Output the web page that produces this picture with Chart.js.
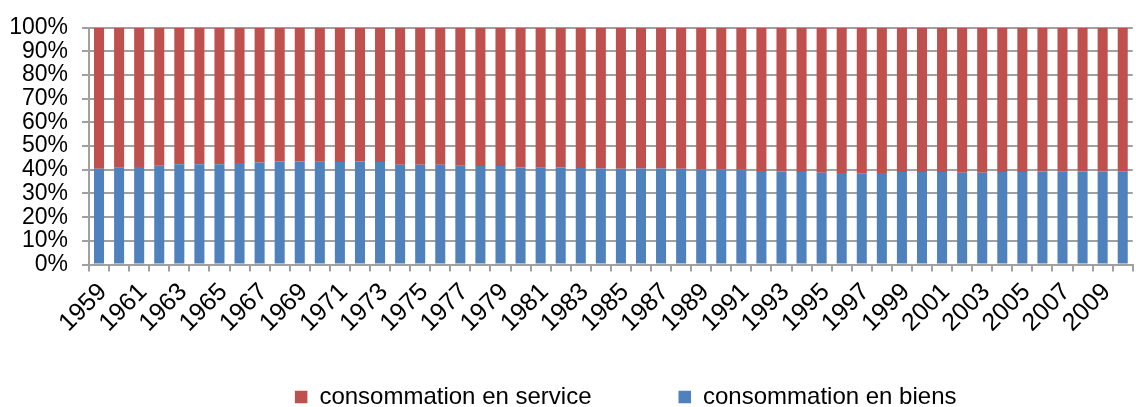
<!DOCTYPE html>
<html>
<head>
<meta charset="utf-8">
<script src="https://cdn.jsdelivr.net/npm/chart.js@4"></script>
<style>
  html, body { margin: 0; padding: 0; background: #fff; overflow: hidden; width: 1136px; height: 407px; }
  #wrap { position: absolute; left: 0; top: 0; width: 1150px; height: 407px; }
</style>
</head>
<body>
<div id="wrap"><canvas id="c" width="1150" height="407"></canvas></div>
<script>
const years = [1959,1960,1961,1962,1963,1964,1965,1966,1967,1968,1969,1970,1971,1972,1973,1974,1975,1976,1977,1978,1979,1980,1981,1982,1983,1984,1985,1986,1987,1988,1989,1990,1991,1992,1993,1994,1995,1996,1997,1998,1999,2000,2001,2002,2003,2004,2005,2006,2007,2008,2009,2010];
const biens = [40.4,40.9,41.2,41.7,42.4,42.4,42.4,42.9,43.1,43.5,43.5,43.4,43.3,43.5,43.3,42.1,42.1,42.1,41.7,41.6,41.6,41.0,40.9,41.0,40.8,40.6,40.4,40.6,40.6,40.4,40.1,40.1,40.0,39.5,39.3,39.1,38.8,38.7,38.6,38.7,39.1,39.1,39.1,38.8,38.8,39.1,39.1,39.3,39.4,39.3,39.3,39.4];
const service = [59.6,59.1,58.8,58.3,57.6,57.6,57.6,57.1,56.9,56.5,56.5,56.6,56.7,56.5,56.7,57.9,57.9,57.9,58.3,58.4,58.4,59.0,59.1,59.0,59.2,59.4,59.6,59.4,59.4,59.6,59.9,59.9,60.0,60.5,60.7,60.9,61.2,61.3,61.4,61.3,60.9,60.9,60.9,61.2,61.2,60.9,60.9,60.7,60.6,60.7,60.7,60.6];
const yTicks = [0,10,20,30,40,50,60,70,80,90,100];
const seriesNames = ['consommation en biens', 'consommation en service'];

const FONT = 'Liberation Sans, Arial, sans-serif';
const GRID = '#a0a0a0';
const LEGEND_PAD = 87;

const legendShift = {
  id: 'legendShift',
  afterLayout(chart) {
    const lg = chart.legend;
    lg.left += 54;
    lg.right += 54;
    const top = 397 - LEGEND_PAD - 12;
    lg.top = top;
    lg.bottom = 407;
    lg.height = 407 - top;
  }
};

new Chart(document.getElementById('c'), {
  type: 'bar',
  data: {
    labels: years.map(String),
    datasets: [
      { label: seriesNames[0], data: biens, backgroundColor: '#4F81BD', borderWidth: 0 },
      { label: seriesNames[1], data: service, backgroundColor: '#C0504D', borderWidth: 0 }
    ]
  },
  options: {
    responsive: false,
    animation: false,
    devicePixelRatio: 1,
    layout: { padding: { left: 0, right: 6.6, top: 24, bottom: 0 } },
    datasets: { bar: { barPercentage: 0.5, categoryPercentage: 1.0 } },
    plugins: {
      tooltip: { enabled: false },
      legend: {
        position: 'bottom',
        reverse: true,
        maxHeight: 30,
        labels: {
          font: { family: FONT, size: 24 },
          color: '#000',
          boxWidth: 12.5,
          boxHeight: 12.5,
          padding: LEGEND_PAD
        }
      }
    },
    scales: {
      x: {
        stacked: true,
        grid: { display: true, drawOnChartArea: false, drawTicks: true, tickLength: 7, color: GRID, lineWidth: 2 },
        border: { display: true, color: GRID, width: 2 },
        ticks: {
          autoSkip: false,
          maxRotation: 45,
          minRotation: 45,
          padding: 6,
          labelOffset: 4,
          color: '#000',
          font: { family: FONT, size: 25 },
          callback: function(v, i) { return i % 2 === 0 ? String(years[i]) : ''; }
        },
        afterFit: function(s) { s.height = 407 - 30 - 264.5; }
      },
      y: {
        stacked: true,
        min: 0,
        max: 100,
        afterBuildTicks: function(s) { s.ticks = yTicks.map(v => ({ value: v })); },
        grid: { color: GRID, lineWidth: 2, tickLength: 7 },
        border: { display: true, color: GRID, width: 2 },
        ticks: {
          autoSkip: false,
          padding: 14,
          color: '#000',
          font: { family: FONT, size: 23 },
          callback: function(v) { return v + '%'; }
        },
        afterFit: function(s) { s.width = 89; }
      }
    }
  },
  plugins: [legendShift]
});
</script>
</body>
</html>
